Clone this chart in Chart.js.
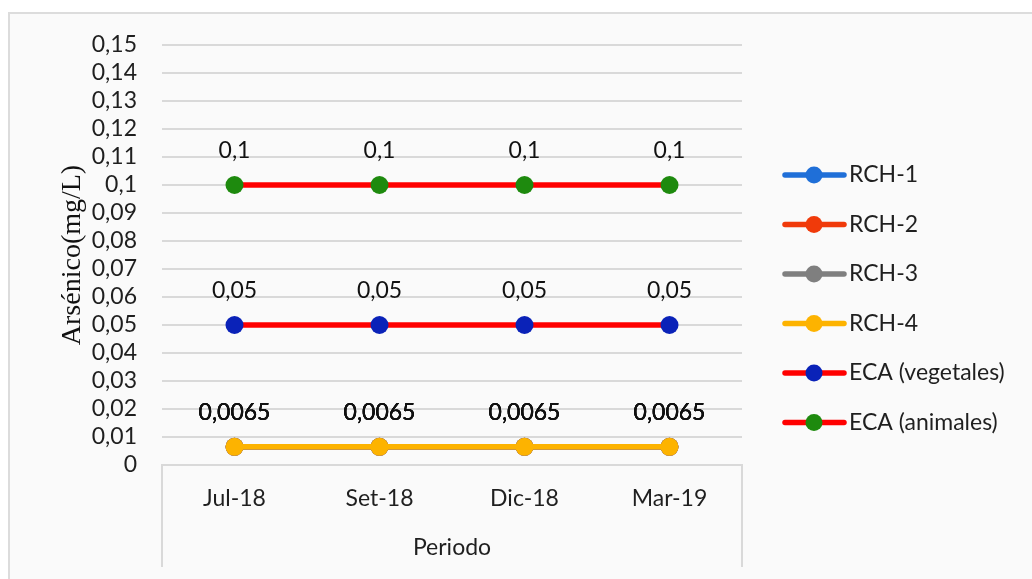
<!DOCTYPE html>
<html>
<head>
<meta charset="utf-8">
<script src="https://cdn.jsdelivr.net/npm/chart.js@4/dist/chart.umd.min.js"></script>
<style>
  html, body { margin: 0; padding: 0; background: #ffffff; }
  #wrap { position: relative; width: 1032px; height: 579px; }
  canvas { display: block; }
</style>
</head>
<body>
<div id="wrap"><canvas id="c" width="1032" height="579"></canvas></div>
<script>
// Periods sampled
const categories = ['Jul-18', 'Set-18', 'Dic-18', 'Mar-19'];

// Arsenic concentration (mg/L) per sampling point
const rch1 = [0.0065, 0.0065, 0.0065, 0.0065];
const rch2 = [0.0065, 0.0065, 0.0065, 0.0065];
const rch3 = [0.0065, 0.0065, 0.0065, 0.0065];
const rch4 = [0.0065, 0.0065, 0.0065, 0.0065];

// Water quality standards (ECA)
const ecaVegetales = [0.05, 0.05, 0.05, 0.05];
const ecaAnimales = [0.1, 0.1, 0.1, 0.1];

// Y axis range
const yMin = 0;
const yMax = 0.15;
const yStep = 0.01;

const seriesLabels = ['RCH-1', 'RCH-2', 'RCH-3', 'RCH-4', 'ECA (vegetales)', 'ECA (animales)'];

const TEXT = '#1f1f1f';
const GRID = '#d9d9d9';
const FONT = 'Lato, "Open Sans", sans-serif';

function fmt(v) {
  const r = Math.round(v * 10000) / 10000;
  return String(r).replace('.', ',');
}

function mkSet(label, data, lineColor, pointColor) {
  return {
    label: label,
    data: data,
    borderColor: lineColor,
    backgroundColor: pointColor,
    pointBackgroundColor: pointColor,
    pointBorderColor: pointColor,
    pointBorderWidth: 0,
    pointRadius: 9,
    pointHoverRadius: 9,
    borderWidth: 5.5,
    tension: 0,
    fill: false
  };
}

const datasets = [
  mkSet(seriesLabels[0], rch1, '#1f6fd8', '#1f6fd8'),
  mkSet(seriesLabels[1], rch2, '#f03a0a', '#f03a0a'),
  mkSet(seriesLabels[2], rch3, '#7f7f7f', '#7f7f7f'),
  mkSet(seriesLabels[3], rch4, '#fdb300', '#fdb300'),
  mkSet(seriesLabels[4], ecaVegetales, '#ff0000', '#0a22b8'),
  mkSet(seriesLabels[5], ecaAnimales, '#ff0000', '#1e8a0e')
];
// later series are painted on top of earlier ones
datasets.forEach((d, i) => { d.order = datasets.length - i; });

// light panel behind the chart with a thin frame on its top and left edges
const panelPlugin = {
  id: 'panel',
  beforeDraw(chart) {
    const ctx = chart.ctx;
    ctx.save();
    ctx.fillStyle = '#ffffff';
    ctx.fillRect(0, 0, chart.width, chart.height);
    ctx.fillStyle = '#fafafa';
    ctx.fillRect(8, 12, chart.width - 8, chart.height - 12);
    ctx.strokeStyle = '#dcdcdc';
    ctx.lineWidth = 2;
    ctx.beginPath();
    ctx.moveTo(9, chart.height);
    ctx.lineTo(9, 13);
    ctx.lineTo(chart.width, 13);
    ctx.stroke();
    ctx.restore();
  }
};

// open box framing the category axis
const axisBoxPlugin = {
  id: 'axisBox',
  beforeDatasetsDraw(chart) {
    const a = chart.chartArea;
    const ctx = chart.ctx;
    ctx.save();
    ctx.strokeStyle = GRID;
    ctx.lineWidth = 2;
    ctx.beginPath();
    ctx.moveTo(a.left, 567);
    ctx.lineTo(a.left, a.bottom);
    ctx.lineTo(a.right, a.bottom);
    ctx.lineTo(a.right, 567);
    ctx.stroke();
    ctx.restore();
  }
};

// value labels above every point
const valueLabelPlugin = {
  id: 'valueLabels',
  afterDatasetsDraw(chart) {
    const ctx = chart.ctx;
    ctx.save();
    ctx.font = '23px ' + FONT;
    ctx.fillStyle = '#111111';
    ctx.textAlign = 'center';
    ctx.textBaseline = 'middle';
    chart.data.datasets.forEach((ds, di) => {
      const meta = chart.getDatasetMeta(di);
      meta.data.forEach((pt, i) => {
        ctx.fillText(fmt(ds.data[i]), pt.x, pt.y - 34);
      });
    });
    ctx.restore();
  }
};

// legend: line segment with marker, then the series name
const sideLegendPlugin = {
  id: 'sideLegend',
  afterDraw(chart) {
    const ctx = chart.ctx;
    const x0 = 785, x1 = 844, xm = 814, xt = 849;
    const y0 = 175, dy = 49.5;
    ctx.save();
    ctx.font = '23px ' + FONT;
    ctx.textAlign = 'left';
    ctx.textBaseline = 'middle';
    chart.data.datasets.forEach((ds, i) => {
      const y = y0 + i * dy;
      ctx.strokeStyle = ds.borderColor;
      ctx.lineWidth = 5.5;
      ctx.lineCap = 'round';
      ctx.beginPath();
      ctx.moveTo(x0, y);
      ctx.lineTo(x1, y);
      ctx.stroke();
      ctx.fillStyle = ds.pointBackgroundColor;
      ctx.beginPath();
      ctx.arc(xm, y, 8.5, 0, Math.PI * 2);
      ctx.fill();
      ctx.fillStyle = TEXT;
      ctx.fillText(ds.label, xt, y);
    });
    ctx.restore();
  }
};

function draw() {
  Chart.defaults.font.family = FONT;
  Chart.defaults.color = TEXT;
  new Chart(document.getElementById('c'), {
    type: 'line',
    data: { labels: categories, datasets: datasets },
    plugins: [panelPlugin, axisBoxPlugin, valueLabelPlugin, sideLegendPlugin],
    options: {
      responsive: false,
      animation: false,
      devicePixelRatio: 1,
      layout: { padding: { left: 52, top: 45, right: 290, bottom: 14 } },
      plugins: {
        legend: { display: false },
        tooltip: { enabled: false },
        title: { display: false }
      },
      scales: {
        x: {
          type: 'category',
          offset: true,
          grid: { display: false, drawTicks: false },
          border: { display: false },
          ticks: { color: TEXT, font: { size: 23 }, padding: 20, maxRotation: 0, autoSkip: false },
          title: {
            display: true,
            text: 'Periodo',
            color: TEXT,
            font: { size: 23 },
            padding: { top: 4, bottom: 4 }
          },
          afterFit(scale) { scale.height = 100; }
        },
        y: {
          min: yMin,
          max: yMax,
          grid: {
            color: (c) => (c.tick && c.tick.value === 0 ? 'rgba(0,0,0,0)' : GRID),
            lineWidth: 2,
            drawTicks: false
          },
          border: { display: false },
          ticks: {
            stepSize: yStep,
            autoSkip: false,
            color: TEXT,
            font: { size: 23 },
            padding: 25,
            callback: (v) => fmt(v)
          },
          title: {
            display: true,
            text: 'Arsénico(mg/L)',
            color: '#111111',
            font: { family: '"Liberation Serif", "DejaVu Serif", serif', size: 28 },
            padding: { top: 4, bottom: 4 }
          },
          afterFit(scale) { scale.width = 110; }
        }
      }
    }
  });
}

if (document.fonts && document.fonts.load) {
  Promise.all([
    document.fonts.load('23px Lato'),
    document.fonts.load('28px "Liberation Serif"')
  ]).then(draw, draw);
} else {
  draw();
}
</script>
</body>
</html>
